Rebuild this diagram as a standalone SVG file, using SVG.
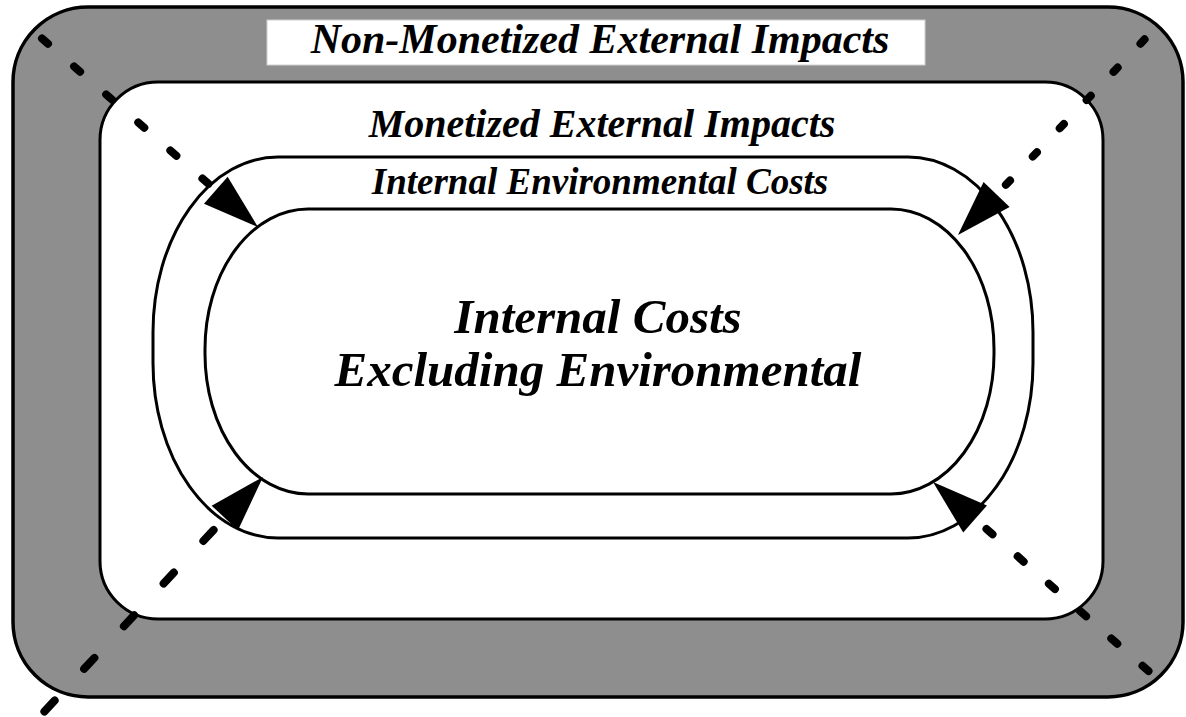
<svg xmlns="http://www.w3.org/2000/svg" width="1186" height="717" viewBox="0 0 1186 717">
  <style>
    .frame { stroke: #000; stroke-width: 3.5; }
    .ring { fill: #fff; stroke: #000; stroke-width: 3; }
    .lbl { font-family: "Liberation Serif", "Times New Roman", serif; font-weight: bold; font-style: italic; fill: #000; text-anchor: middle; }
    .dash { fill: none; stroke: #000; stroke-width: 8; stroke-linecap: round; }
  </style>
  <defs>
    <marker id="head" markerUnits="userSpaceOnUse" markerWidth="56" markerHeight="36" viewBox="0 0 56 36" refX="0" refY="18" orient="auto" overflow="visible">
      <path d="M0,0 L56,18 L0,36 Z" fill="#000"/>
    </marker>
  </defs>
  <rect width="1186" height="717" fill="#fff"/>

  <g id="non-monetized">
    <rect class="frame" x="13" y="7" width="1170" height="690" rx="75" ry="75" fill="#8e8e8e"/>
    <rect x="267" y="20" width="658" height="45" fill="#fff" stroke="#d0d0d0" stroke-width="1"/>
    <text class="lbl" x="600" y="53" font-size="42">Non-Monetized External Impacts</text>
  </g>

  <g id="monetized">
    <rect class="ring" x="100" y="82" width="1003" height="537" rx="58" ry="58"/>
    <text class="lbl" x="602" y="137" font-size="40">Monetized External Impacts</text>
  </g>

  <g id="internal-environmental">
    <rect class="ring" x="153" y="157" width="880" height="381" rx="125" ry="175"/>
    <text class="lbl" x="600" y="194" font-size="37">Internal Environmental Costs</text>
  </g>

  <g id="internal-costs">
    <rect class="ring" x="205" y="209" width="789" height="285" rx="103" ry="140"/>
    <text class="lbl" x="598" y="333" font-size="49">Internal Costs</text>
    <text class="lbl" x="598" y="386" font-size="49">Excluding Environmental</text>
  </g>

  <g id="connectors">
    <path class="dash" d="M42,38.4 L215.8,190.2" stroke-dasharray="8 34.6" marker-end="url(#head)"/>
    <path class="dash" d="M1144.6,39.3 L996.6,194.5" stroke-dasharray="6 33" marker-end="url(#head)"/>
    <path class="dash" d="M44.4,711.5 L224.8,517.9" stroke-dasharray="15 43.3" marker-end="url(#head)"/>
    <path class="dash" d="M1148.5,671.1 L975.1,519" stroke-dasharray="8 33.5" marker-end="url(#head)"/>
  </g>
</svg>
